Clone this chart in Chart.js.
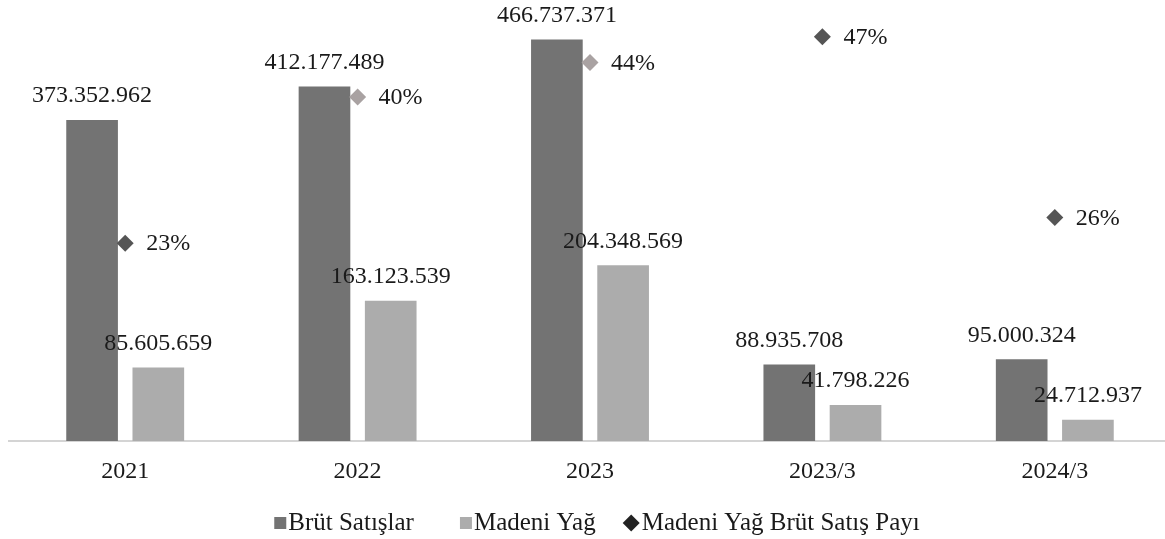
<!DOCTYPE html>
<html>
<head>
<meta charset="utf-8">
<script src="https://cdn.jsdelivr.net/npm/chart.js@4/dist/chart.umd.min.js"></script>
<style>
  html, body { margin: 0; padding: 0; background: #fff; overflow: hidden; }
  #wrap { width: 1180px; height: 539px; position: relative; }
</style>
</head>
<body>
<div id="wrap"><canvas id="oilChart"></canvas></div>
<script>
var categories = ["2021", "2022", "2023", "2023/3", "2024/3"];
var grossSales = [373352962, 412177489, 466737371, 88935708, 95000324];
var lubricantSales = [85605659, 163123539, 204348569, 41798226, 24712937];
var lubricantShare = [23, 40, 44, 47, 26];

var seriesNames = ["Brüt Satışlar", "Madeni Yağ", "Madeni Yağ Brüt Satış Payı"];

var FONT = "'Liberation Serif', 'Times New Roman', serif";
var DARK = "#737373";
var LIGHT = "#acacac";
var DIAMOND = "#555555";

function formatTr(n) {
  return String(n).replace(/\B(?=(\d{3})+(?!\d))/g, ".");
}

// value labels + hand drawn legend (tight marker/text spacing like the original)
var labelPlugin = {
  id: "valueLabels",
  afterDatasetsDraw: function (chart) {
    var ctx = chart.ctx;
    ctx.save();
    ctx.font = "24px " + FONT;
    ctx.fillStyle = "#1a1a1a";
    ctx.textBaseline = "middle";
    chart.data.datasets.forEach(function (ds, i) {
      var meta = chart.getDatasetMeta(i);
      meta.data.forEach(function (el, j) {
        if (ds.type === "bar") {
          ctx.textAlign = "center";
          ctx.fillText(formatTr(ds.data[j]), el.x, el.y - 24);
        } else {
          ctx.textAlign = "left";
          ctx.fillText(ds.data[j] + "%", el.x + 21, el.y + 1);
        }
      });
    });
    ctx.restore();
  },
  afterDraw: function (chart) {
    var ctx = chart.ctx;
    ctx.save();
    ctx.font = "25px " + FONT;
    ctx.textBaseline = "middle";
    ctx.textAlign = "left";
    var y = 523;
    var markers = [
      { type: "rect", color: DARK, size: 12 },
      { type: "rect", color: LIGHT, size: 12 },
      { type: "diamond", color: "#222", size: 17 },
    ];
    var gaps = [46, 27];
    var total = 0;
    var widths = seriesNames.map(function (t) { return ctx.measureText(t).width; });
    markers.forEach(function (m, i) {
      total += m.size + 2 + widths[i] + (gaps[i] || 0);
    });
    var x = 597 - total / 2;
    markers.forEach(function (m, i) {
      ctx.fillStyle = m.color;
      if (m.type === "rect") {
        ctx.fillRect(x, y - m.size / 2, m.size, m.size);
      } else {
        var r = m.size / 2;
        ctx.beginPath();
        ctx.moveTo(x, y);
        ctx.lineTo(x + r, y - r);
        ctx.lineTo(x + 2 * r, y);
        ctx.lineTo(x + r, y + r);
        ctx.closePath();
        ctx.fill();
      }
      x += m.size + 2;
      ctx.fillStyle = "#1a1a1a";
      ctx.fillText(seriesNames[i], x, y);
      x += widths[i] + (gaps[i] || 0);
    });
    ctx.restore();
  },
};

var ctx = document.getElementById("oilChart").getContext("2d");
var oilChart = new Chart(ctx, {
  data: {
    labels: categories,
    datasets: [
      {
        type: "line",
        label: seriesNames[2],
        data: lubricantShare,
        yAxisID: "y2",
        showLine: false,
        pointStyle: "rectRot",
        pointRadius: 8.5,
        pointBorderWidth: 0,
        pointBackgroundColor: [DIAMOND, "#a9a2a2", "#a9a2a2", DIAMOND, DIAMOND],
        pointBorderColor: "rgba(0,0,0,0)",
        order: 0,
      },
      {
        type: "bar",
        label: seriesNames[0],
        data: grossSales,
        backgroundColor: DARK,
        yAxisID: "y",
        categoryPercentage: 0.57,
        barPercentage: 0.78,
        order: 1,
      },
      {
        type: "bar",
        label: seriesNames[1],
        data: lubricantSales,
        backgroundColor: LIGHT,
        yAxisID: "y",
        categoryPercentage: 0.57,
        barPercentage: 0.78,
        order: 1,
      },
    ],
  },
  options: {
    responsive: true,
    maintainAspectRatio: false,
    animation: false,
    layout: {
      padding: { top: 11, left: 9, right: 9, bottom: 0 },
    },
    plugins: {
      legend: { display: false },
      tooltip: { enabled: false },
    },
    scales: {
      x: {
        type: "category",
        offset: true,
        grid: { display: false, drawTicks: false },
        border: { display: true, color: "#d4d4d4", width: 2 },
        ticks: {
          padding: 16,
          color: "#1a1a1a",
          font: { family: FONT, size: 24 },
        },
        afterFit: function (scale) {
          scale.height = 98;
        },
      },
      y: {
        display: false,
        min: 0,
        max: 500000000,
      },
      y2: {
        display: false,
        min: 0,
        max: 50,
      },
    },
  },
  plugins: [labelPlugin],
});
</script>
</body>
</html>
